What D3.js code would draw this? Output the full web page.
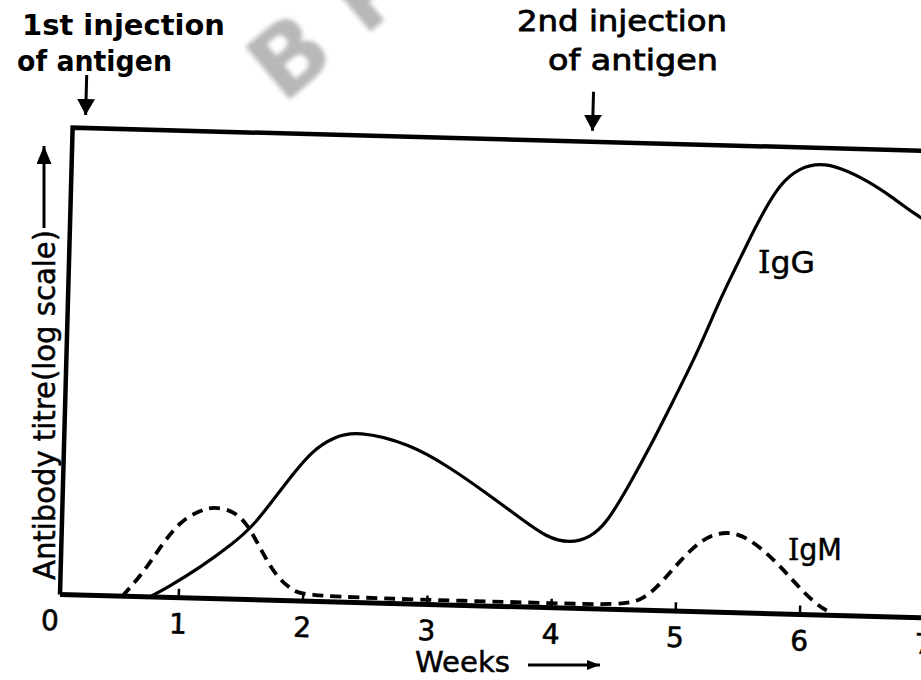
<!DOCTYPE html>
<html>
<head>
<meta charset="utf-8">
<script src="https://cdn.jsdelivr.net/npm/d3@7"></script>
<style>
  html, body { margin: 0; padding: 0; background: #fff; }
  svg { display: block; }
  text { font-family: "DejaVu Sans", sans-serif; fill: #000; }
</style>
</head>
<body>
<svg id="chart" width="921" height="680"></svg>
<script>
// Weeks on the x axis
const weekTicks = [0, 1, 2, 3, 4, 5, 6, 7];
const tickLabels = ["0", "1", "2", "3", "4", "5", "6", "7"];

// Relative antibody titre (log scale, % of frame height) by week
const igG = [
  [0.77, 0], [0.91, 2.1], [1.17, 6.6], [1.43, 11.9], [1.59, 15.9], [1.74, 21.4],
  [1.90, 27.3], [2.05, 32.3], [2.21, 35.2], [2.40, 36.8], [2.83, 34.3], [3.16, 29.4],
  [3.46, 24.1], [3.73, 19.1], [3.95, 15.0], [4.14, 13.9], [4.30, 15.3], [4.43, 18.4],
  [4.61, 27.1], [4.76, 34.9], [4.94, 45.1], [5.12, 55.3], [5.29, 66.8], [5.39, 72.6],
  [5.50, 79.1], [5.60, 84.8], [5.75, 92.2], [5.91, 95.7], [6.07, 96.7], [6.23, 95.9],
  [6.45, 93.3], [6.66, 89.8], [6.80, 87.1], [6.89, 85.7], [7.00, 83.5]
];
const igM = [
  [0.55, 0], [0.71, 5.0], [0.84, 10.6], [1.00, 16.5], [1.16, 18.8], [1.26, 19.7],
  [1.42, 19.0], [1.54, 16.3], [1.67, 10.0], [1.79, 4.9], [1.92, 2.2], [2.00, 1.3],
  [2.6, 1.0], [3.3, 1.0], [4.0, 1.0], [4.55, 1.0], [4.74, 2.1], [4.90, 6.5],
  [5.03, 10.9], [5.19, 15.3], [5.32, 16.9], [5.43, 17.2], [5.56, 16.2], [5.73, 12.9],
  [5.89, 8.7], [6.03, 4.7], [6.17, 1.6], [6.22, 1.0]
];

// Antigen injections (week)
const injectionWeeks = [0.15, 4.23];

const svg = d3.select("#chart");
const frameH = 467;

const x = d3.scaleLinear().domain([0, 7]).range([-6, 864]);
const y = d3.scaleLinear().domain([0, 100]).range([0, -frameH]);

// Arrowhead markers
const defs = svg.append("defs");
function marker(id, w, l) {
  defs.append("marker")
    .attr("id", id).attr("viewBox", `0 ${-w / 2} ${l} ${w}`)
    .attr("refX", l).attr("refY", 0)
    .attr("markerWidth", l).attr("markerHeight", w)
    .attr("markerUnits", "userSpaceOnUse").attr("orient", "auto")
    .append("path").attr("d", `M0,${-w / 2} L${l},0 L0,${w / 2} Z`).attr("fill", "#000");
}
marker("headBig", 18, 16);
marker("headY", 15, 18);
marker("headW", 10, 13);
defs.append("filter").attr("id", "soft")
  .append("feGaussianBlur").attr("stdDeviation", 2.2);

// Watermark
svg.append("text")
  .attr("transform", "translate(283,105) rotate(-40)")
  .attr("font-size", 95).attr("font-weight", "bold")
  .style("fill", "#b8b8b8").attr("filter", "url(#soft)")
  .text("B P");

// Plot frame (slightly tilted page)
const plot = svg.append("g").attr("transform", "translate(60,594.5) rotate(1.55)");

plot.append("path")
  .attr("d", `M${x(7.3)},${y(100)} H0 V0`)
  .attr("fill", "none").attr("stroke", "#000").attr("stroke-width", 4.5)
  .attr("stroke-linejoin", "miter");
plot.append("path")
  .attr("d", `M0,0 H${x(7.3)}`)
  .attr("fill", "none").attr("stroke", "#000").attr("stroke-width", 5);

// Week axis ticks and labels
const xAxis = d3.axisBottom(x)
  .tickValues(weekTicks)
  .tickFormat((d, i) => tickLabels[i])
  .tickSizeInner(-9).tickSizeOuter(0).tickPadding(16);
const ax = plot.append("g").call(xAxis);
ax.select(".domain").remove();
ax.selectAll(".tick line")
  .attr("stroke", "#000").attr("stroke-width", 2.5)
  .attr("display", d => (d === 0 || d === 7) ? "none" : null);
ax.selectAll(".tick text")
  .attr("font-size", 28).attr("font-family", "DejaVu Sans")
  .style("fill", "#000").style("stroke", "#000").style("stroke-width", 0.6);
ax.selectAll(".tick").filter(d => d === 0).select("text").attr("x", -4);

// Curves
const line = d3.line()
  .x(d => x(d[0])).y(d => y(d[1]))
  .curve(d3.curveBasis);

plot.append("path").datum(igM)
  .attr("d", line).attr("fill", "none")
  .attr("stroke", "#000").attr("stroke-width", 3.8)
  .attr("stroke-dasharray", "11,7");

plot.append("path").datum(igG)
  .attr("d", line).attr("fill", "none")
  .attr("stroke", "#000").attr("stroke-width", 3.2)
  .attr("stroke-linecap", "round");

// Injection arrows
plot.selectAll(".inj").data(injectionWeeks).enter().append("line")
  .attr("class", "inj")
  .attr("x1", d => x(d)).attr("x2", d => x(d))
  .attr("y1", (d, i) => y(100) - (i === 0 ? 53 : 50))
  .attr("y2", (d, i) => y(100) - (i === 0 ? 13 : 11))
  .attr("stroke", "#000").attr("stroke-width", 3)
  .attr("marker-end", "url(#headBig)");

// Annotation text
const ann = svg.append("g");
ann.append("text").attr("x", 22).attr("y", 35)
  .attr("font-size", 29).attr("font-weight", "bold")
  .attr("textLength", 203).attr("lengthAdjust", "spacingAndGlyphs")
  .text("1st injection");
ann.append("text").attr("x", 17).attr("y", 71)
  .attr("font-size", 29).attr("font-weight", "bold")
  .attr("textLength", 155).attr("lengthAdjust", "spacingAndGlyphs")
  .text("of antigen");
ann.append("text").attr("x", 517).attr("y", 31)
  .attr("font-size", 29).style("stroke", "#000").style("stroke-width", 0.8)
  .attr("textLength", 210).attr("lengthAdjust", "spacingAndGlyphs")
  .text("2nd injection");
ann.append("text").attr("x", 548).attr("y", 70)
  .attr("font-size", 29).style("stroke", "#000").style("stroke-width", 0.8)
  .attr("textLength", 170).attr("lengthAdjust", "spacingAndGlyphs")
  .text("of antigen");

// Axis titles
ann.append("text")
  .attr("transform", "translate(55,580) rotate(-90)")
  .attr("font-size", 31).style("stroke", "#000").style("stroke-width", 0.5)
  .attr("textLength", 350).attr("lengthAdjust", "spacingAndGlyphs")
  .text("Antibody titre(log scale)");
ann.append("line")
  .attr("x1", 44).attr("x2", 44).attr("y1", 228).attr("y2", 146)
  .attr("stroke", "#000").attr("stroke-width", 3)
  .attr("marker-end", "url(#headY)");

ann.append("text").attr("x", 415).attr("y", 672)
  .attr("font-size", 28).style("stroke", "#000").style("stroke-width", 0.5)
  .attr("textLength", 95).attr("lengthAdjust", "spacingAndGlyphs")
  .text("Weeks");
ann.append("line")
  .attr("x1", 528).attr("x2", 600).attr("y1", 665).attr("y2", 665)
  .attr("stroke", "#000").attr("stroke-width", 3)
  .attr("marker-end", "url(#headW)");

// Series labels
const igGLabel = ann.append("text").attr("x", 758).attr("y", 273)
  .attr("font-size", 31).style("stroke", "#000").style("stroke-width", 0.5)
  .attr("textLength", 57).attr("lengthAdjust", "spacingAndGlyphs");
igGLabel.append("tspan").attr("font-family", "DejaVu Serif").text("I");
igGLabel.append("tspan").text("gG");

const igMLabel = ann.append("text").attr("x", 788).attr("y", 560)
  .attr("font-size", 30).style("stroke", "#000").style("stroke-width", 0.5)
  .attr("textLength", 54).attr("lengthAdjust", "spacingAndGlyphs");
igMLabel.append("tspan").attr("font-family", "DejaVu Serif").text("I");
igMLabel.append("tspan").text("gM");
</script>
</body>
</html>
